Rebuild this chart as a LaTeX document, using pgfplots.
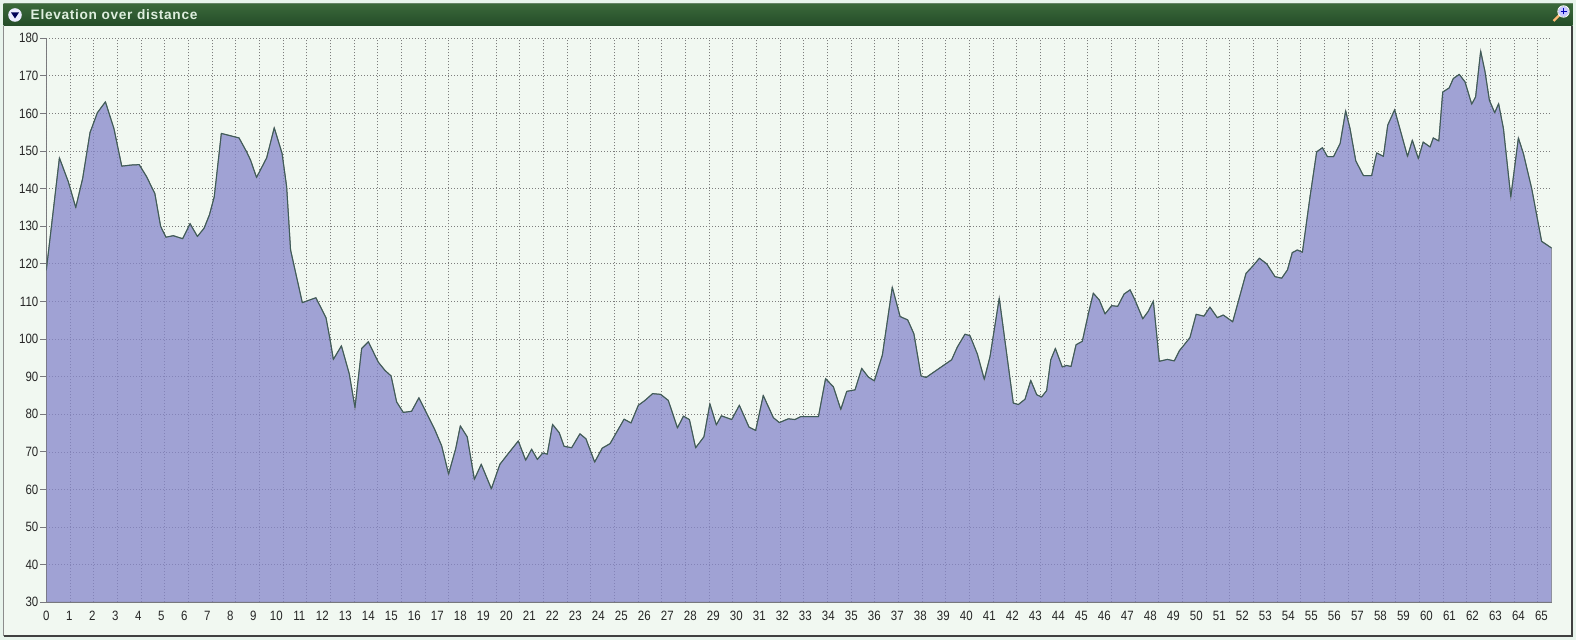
\documentclass[border=0pt]{standalone}
\usepackage{pgfplots}
\pgfplotsset{compat=1.18}
\usepackage{fontspec}
\setmainfont{Liberation Sans}
\newfontfamily\tickfont[FakeStretch=0.85]{Liberation Sans}
\newfontfamily\titlefont[LetterSpace=5]{Liberation Sans Bold}
\definecolor{outer}{RGB}{232,244,236}
\definecolor{panel}{RGB}{241,248,241}
\definecolor{gridc}{RGB}{125,125,125}
\definecolor{axc}{RGB}{120,120,125}
\definecolor{areaf}{RGB}{134,134,203}
\definecolor{linec}{RGB}{62,92,88}
\definecolor{bartop}{RGB}{58,104,58}
\definecolor{barmid}{RGB}{44,107,48}
\definecolor{barbot}{RGB}{36,76,40}
\definecolor{titlec}{RGB}{222,238,222}
\pgfplotstableread{
x y
0 118.3
0.57 148.2
0.96 141.8
1.28 135
1.58 142.7
1.90 154.9
2.22 160.2
2.57 163.1
2.94 156
3.28 146
3.71 146.3
4.04 146.4
4.36 143.2
4.72 138.7
4.97 130
5.20 127.1
5.52 127.5
5.93 126.7
6.25 130.7
6.57 127.3
6.86 129.5
7.09 133
7.30 137.8
7.61 154.7
8.38 153.5
8.71 149.8
8.88 147.6
9.14 143
9.58 148.2
9.91 156.2
10.25 149.4
10.45 140.5
10.62 123.7
11.13 109.7
11.72 111
12.16 105.7
12.33 100.1
12.48 94.6
12.83 98.2
13.17 90.8
13.42 81.8
13.71 97.5
14.00 99.3
14.43 93.9
14.72 91.7
14.99 90.2
15.23 83.3
15.52 80.5
15.88 80.8
16.20 84.4
16.54 80.2
16.87 76.2
17.19 71.6
17.49 64.1
17.80 70.9
18.00 76.9
18.30 74
18.61 62.7
18.91 66.7
19.35 60.2
19.72 66.7
20.09 69.6
20.52 72.9
20.84 67.8
21.10 70.7
21.35 68
21.58 69.7
21.78 69.4
22.01 77.3
22.30 75.1
22.51 71.5
22.84 71.1
23.20 74.8
23.46 73.5
23.84 67.3
24.17 71
24.51 72.2
25.12 78.7
25.42 77.7
25.74 82.4
26.03 83.7
26.36 85.5
26.71 85.3
27.04 83.7
27.44 76.4
27.70 79.5
27.96 78.6
28.23 71.1
28.59 74
28.85 82.8
29.13 77.2
29.35 79.6
29.80 78.6
30.13 82.4
30.55 76.6
30.84 75.7
31.17 85
31.61 79.1
31.87 77.8
32.26 78.8
32.55 78.6
32.80 79.4
33.57 79.4
33.88 89.5
34.22 87.3
34.54 81.3
34.80 86.1
35.16 86.5
35.45 92.2
35.74 89.9
36.00 88.9
36.35 95.8
36.78 113.8
37.12 106
37.45 105.1
37.72 101.4
38.03 90.2
38.25 89.8
39.36 94.5
39.61 97.9
39.94 101.3
40.16 100.9
40.48 96
40.78 89.3
41.03 95.4
41.43 110.9
42.04 83
42.26 82.6
42.55 84
42.80 89
43.06 85.2
43.27 84.6
43.49 86.3
43.67 94.5
43.87 97.5
44.17 92.6
44.36 93
44.55 92.7
44.77 98.5
45.04 99.4
45.31 106.9
45.52 112.2
45.78 110.4
46.03 106.7
46.32 108.9
46.58 108.7
46.86 112
47.12 113.1
47.33 110.4
47.67 105.4
47.91 107.4
48.13 110.1
48.39 94.1
48.74 94.6
49.04 94.2
49.26 96.9
49.46 98.4
49.72 100.4
49.99 106.6
50.33 106.1
50.59 108.5
50.91 105.7
51.17 106.4
51.58 104.6
52.16 117.5
52.45 119.4
52.74 121.5
53.06 120
53.42 116.6
53.71 116.2
53.96 118.4
54.17 123
54.39 123.7
54.61 123.1
54.94 137.8
55.23 149.8
55.48 150.9
55.70 148.5
55.96 148.5
56.25 152
56.49 160.7
56.68 156
56.93 147.4
57.26 143.5
57.62 143.5
57.84 149.5
58.13 148.6
58.32 156.9
58.62 161
59.18 148.6
59.39 152.9
59.65 148
59.86 152.4
60.16 151.1
60.30 153.5
60.54 152.7
60.71 165.7
60.99 166.8
61.17 169.3
61.43 170.4
61.68 168.4
61.97 162.5
62.14 164.4
62.36 176.6
62.55 171.1
62.74 163.5
62.97 160.2
63.14 162.6
63.35 156
63.67 137.8
64.00 153.5
64.22 149.3
64.58 140
65.01 126
65.45 124.2
}\elev
\begin{document}
\begin{tikzpicture}[x=1pt,y=1pt]
\path[use as bounding box] (0,0) rectangle (1576,640);
\fill[outer] (0,0) rectangle (1576,640);
% panel
\fill[panel] (3.5,4) rectangle (1572,614);
\draw[black!75,line width=1.2pt] (3.5,4) -- (1572,4) -- (1572,614);
\draw[black!45,line width=1pt] (3.5,4) -- (3.5,614);
% title bar
\shade[top color=bartop,middle color=barmid,bottom color=barbot] (3.5,614) rectangle (1572.5,636);
\draw[black!40!green!20!gray,line width=1pt] (3.5,636.5) -- (1572.5,636.5);
\fill[white!92!blue] (15,625) circle (6.8);
\fill[blue!35!black] (11,627.5) -- (19,627.5) -- (15,621.5) -- cycle;
\node[anchor=west,inner sep=0pt,text=titlec] at (30.5,625.2) {\titlefont\fontsize{13.7}{13.7}\selectfont Elevation over distance};
\draw[line width=2.2pt,orange!55!white] (1553.5,619) -- (1560.5,626);
\fill[blue!22!white] (1563.5,628.5) circle (5.5);
\draw[white,line width=.9pt] (1563.5,628.5) circle (5.7);
\draw[blue!70!black,line width=1pt] (1560.5,628.5) -- (1566.5,628.5) (1563.5,625.5) -- (1563.5,631.5);
\begin{axis}[
  at={(46.3pt,37.7pt)},anchor=south west,
  scale only axis,width=1505.4pt,height=564pt,
  xmin=0,xmax=65.45,ymin=30,ymax=180,
  axis lines*=left,
  axis line style={axc,line width=1pt,-},
  axis background/.style={fill=panel},
  xtick={0,1,...,65},
  ytick={30,40,...,180},
  extra x ticks={0,1.02913,...,64.9},
  extra x tick labels={},
  extra x tick style={
    grid=major,
    major grid style={gridc,line width=.8pt,dash pattern=on 1pt off 2pt},
    major tick length=4.5pt,
    tick style={axc,line width=1pt},
    xticklabels={},
  },
  tick align=outside,
  x tick style={draw=none},
  y tick style={axc,line width=1pt},
  major tick length=6pt,
  ymajorgrids,
  major grid style={gridc,line width=.8pt,dash pattern=on 1pt off 2pt},
  tick label style={font=\tickfont\fontsize{13.5}{13.5}\selectfont,text=black!85},
  xticklabel style={yshift=0.8pt},
  yticklabel style={xshift=1.5pt},
  /pgf/number format/assume math mode=true,
  clip=true,
]
\addplot[fill=areaf,fill opacity=.75,draw=axc,line width=1pt,draw opacity=1] table[x=x,y=y] {\elev} \closedcycle;
\addplot[linec,line width=1pt,line join=round] table[x=x,y=y] {\elev};
\end{axis}
\end{tikzpicture}
\end{document}
